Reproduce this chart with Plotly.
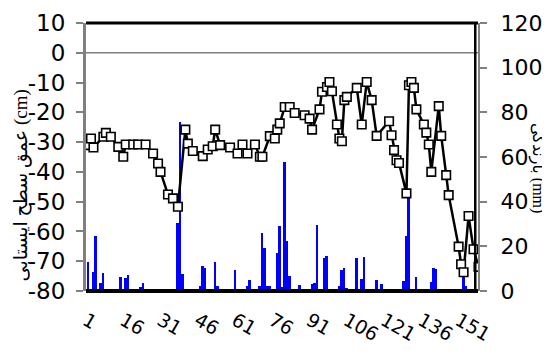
import plotly.graph_objects as go

# Water table depth (cm) - line series
depth_days = [1, 3, 4, 8, 9, 11, 14, 16, 17, 20, 22, 25, 28, 30, 31, 34, 36, 38, 41, 42,
              44, 48, 50, 52, 53, 55, 59, 62, 64, 66, 69, 71, 72, 75, 77, 78, 79, 81, 83, 85,
              89, 91, 92, 95, 96, 98, 99, 100, 102, 103, 104, 105, 106, 110, 112, 114, 116, 118, 123, 124,
              125, 126, 127, 130, 131, 132, 133, 134, 137, 138, 139, 140, 143, 144, 146, 147, 151, 152, 153, 155,
              157, 159]
depth_vals = [-31, -28.8, -31.8, -28.2, -26.9, -28.2, -31.6, -34.9, -30.8, -30.8, -30.8, -30.8, -33.8, -37.2, -40, -47.6, -48.9, -51.7, -25.8, -30.5,
              -33, -34.7, -32.5, -31.4, -25.8, -31, -31.8, -33.8, -30.8, -33.8, -30.8, -34.9, -34.9, -28, -28.8, -25.8, -23.7, -18.2, -18.2, -20.2,
              -21, -22.1, -25.8, -19, -13.1, -11.5, -9.8, -12.9, -24.1, -28.8, -29.7, -15.9, -14.8, -11.8, -24.1, -9.8, -15.9, -27.9, -23, -27.7,
              -32.7, -36.1, -37, -47.2, -10.9, -9.8, -11.8, -19, -24.1, -26.8, -30.8, -40, -17.9, -27.9, -41.1, -47.8, -65.1, -71, -73.7, -54.8,
              -66, -71.9]

# Rainfall (mm) - bar series
rain_days = [2, 4, 5, 7, 8, 11, 15, 16, 17, 18, 23, 24, 34, 38, 39, 40, 44, 47, 48, 49,
             53, 54, 59, 61, 66, 67, 70, 71, 72, 73, 74, 75, 76, 78, 79, 80, 81, 82, 83, 87,
             91, 92, 93, 94, 97, 98, 103, 104, 105, 106, 107, 108, 110, 112, 113, 118, 119, 120, 122, 129,
             130, 131, 134, 138, 140, 141, 142, 153, 154]
rain_vals = [13.1, 8.6, 24.6, 3.7, 8.2, 0.3, 6.4, 0.3, 6, 7.2, 1.9, 3.7, 0.3, 30.3, 75.5, 7.6, 0.3, 2.2, 11.2, 10.1,
             13, 2.2, 0.3, 9.4, 2.2, 4.9, 1, 2.2, 26.1, 19.4, 2.2, 2.2, 0.5, 16.8, 29.1, 1.9, 57.7, 22.5, 6.7, 2.7,
             0.8, 3.1, 3.7, 29.5, 14.9, 15.7, 2.2, 9.4, 10.3, 1.2, 0.8, 0.8, 14.8, 5.4, 15.2, 4.9, 1, 3.1, 0.8, 4.6,
             24.6, 45, 6.4, 0.5, 4.2, 10.4, 9.8, 6.4, 2.2]

x_ticks = [1, 16, 31, 46, 61, 76, 91, 106, 121, 136, 151]
depth_ticks = [-80, -70, -60, -50, -40, -30, -20, -10, 0, 10]
depth_labels = ["-80", "-70", "-60", "-50", "-40", "-30", "-20", "-10", "0", "10"]
rain_ticks = [0, 20, 40, 60, 80, 100, 120]

left_title = "عمق سطح ایستابی (cm)"
right_title = "بارندگی (mm)"

fig = go.Figure()
fig.add_trace(go.Bar(x=rain_days, y=rain_vals, yaxis="y", marker=dict(color="#0000FF", line=dict(width=0)),
                     width=0.8, showlegend=False))
fig.add_trace(go.Scatter(x=depth_days, y=depth_vals, yaxis="y2", mode="lines+markers",
                         line=dict(color="black", width=2.5),
                         marker=dict(symbol="square", size=8.5, color="white", line=dict(color="black", width=1.6)),
                         showlegend=False))

tickfont = dict(family="DejaVu Sans", size=23, color="black")
# page body has an 8px margin, so the figure is sized/offset to compensate
fig.update_layout(
    width=542, height=346,
    margin=dict(l=78, r=72, t=15, b=63, autoexpand=False),
    paper_bgcolor="white", plot_bgcolor="white",
    bargap=0,
    xaxis=dict(range=[1, 158.8], tickvals=x_ticks, ticktext=[str(t) for t in x_ticks],
               tickangle=30, tickfont=dict(family="DejaVu Sans", size=19, color="black"),
               showgrid=False, zeroline=False, showline=False, ticks="", ticklabelstandoff=14,
               automargin=False),
    yaxis=dict(range=[0, 120], tickvals=rain_ticks, side="right", showgrid=False, zeroline=False,
               showline=True, linecolor="#808080", linewidth=2, ticks="outside", ticklen=7,
               tickcolor="#808080", tickwidth=1.5, tickfont=dict(family="DejaVu Sans", size=22, color="black"),
               ticklabelstandoff=9, automargin=False),
    yaxis2=dict(range=[-80, 10], tickvals=depth_ticks, ticktext=depth_labels, overlaying="y", side="left",
                showgrid=False, zeroline=False, showline=True, linecolor="#808080", linewidth=3,
                ticks="outside", ticklen=7, tickcolor="#808080", tickwidth=1.5, tickfont=tickfont,
                ticklabelstandoff=6, automargin=False),
    shapes=[
        dict(type="line", xref="paper", yref="y2", x0=0, x1=1, y0=0, y1=0,
             line=dict(color="#808080", width=1.5), layer="below"),
        dict(type="line", xref="paper", yref="paper", x0=0, x1=1, y0=1, y1=1,
             line=dict(color="black", width=3), layer="above"),
        dict(type="line", xref="paper", yref="paper", x0=0, x1=1, y0=0, y1=0,
             line=dict(color="black", width=4), layer="above"),
        dict(type="line", xref="paper", yref="paper", x0=0.993, x1=0.993, y0=0, y1=1,
             line=dict(color="black", width=2.5), layer="above"),
    ],
    annotations=[
        dict(text=left_title, textangle=-90, xref="paper", yref="paper", x=-0.165, y=0.395,
             xanchor="center", yanchor="middle", showarrow=False,
             font=dict(family="Liberation Serif, DejaVu Sans", size=19, color="black")),
        dict(text=right_title, textangle=90, xref="paper", yref="paper", x=1.155, y=0.46,
             xanchor="center", yanchor="middle", showarrow=False,
             font=dict(family="Liberation Serif, DejaVu Sans", size=16, color="black")),
    ],
)

fig.write_html("out.html")
